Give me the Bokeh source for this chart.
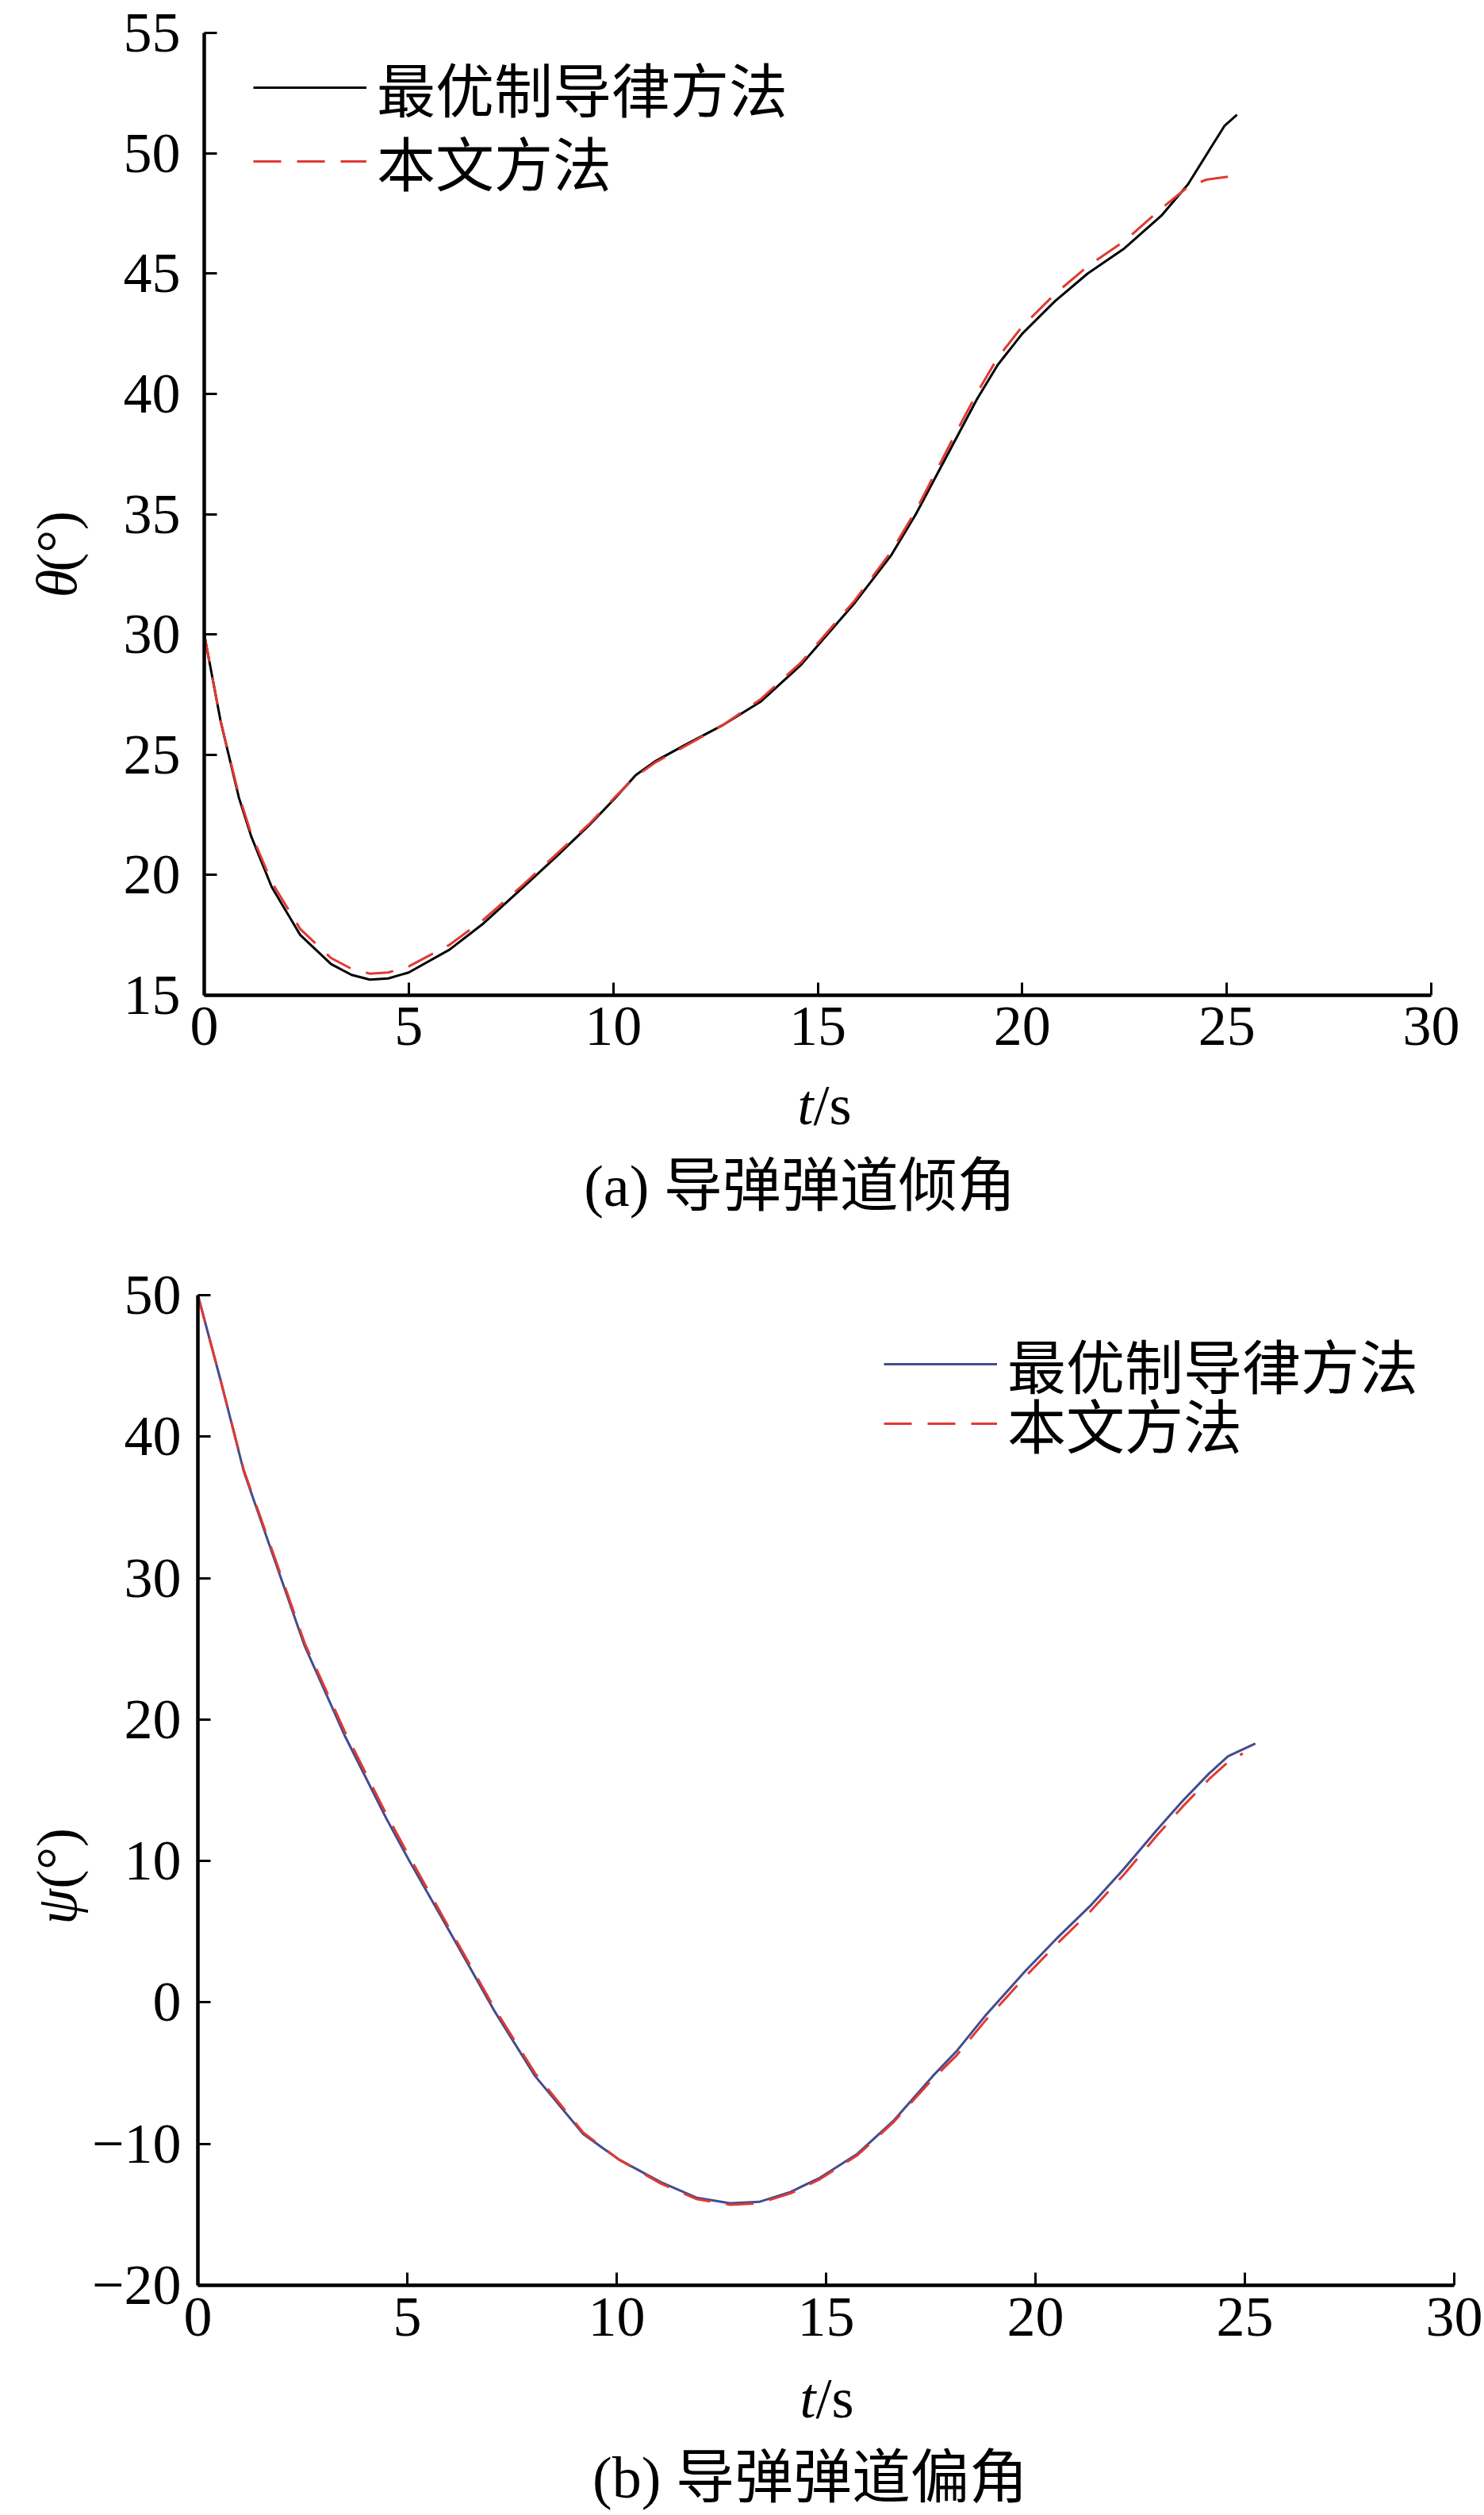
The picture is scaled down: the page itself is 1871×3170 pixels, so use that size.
from math import pi
from bokeh.plotting import figure
from bokeh.models import Range1d, FixedTicker, Legend, LegendItem
from bokeh.core.properties import value
from bokeh.layouts import column, row
from bokeh.embed import file_html
from bokeh.resources import INLINE

# ---------------- data: (a) pitch angle theta ----------------
t_opt_a = [0, 0.4, 0.85, 1.15, 1.65, 2.35, 3.1, 3.6, 4.05, 4.5, 5.0, 6.0, 6.8, 7.8,
           8.6, 9.4, 10.05, 10.55, 11.05, 11.75, 12.7, 13.6, 14.6, 15.9, 16.8, 17.4,
           17.9, 18.4, 18.9, 19.4, 20.0, 20.8, 21.6, 22.5, 23.4, 24.05, 24.6, 24.95, 25.25]
theta_opt = [30.0, 26.4, 23.2, 21.6, 19.5, 17.5, 16.3, 15.85, 15.65, 15.7, 15.95, 16.9,
             17.95, 19.5, 20.75, 22.05, 23.2, 24.15, 24.75, 25.4, 26.25, 27.2, 28.75,
             31.3, 33.3, 35.0, 36.6, 38.2, 39.8, 41.2, 42.5, 43.85, 45.0, 46.05, 47.4,
             48.7, 50.2, 51.15, 51.6]
t_new_a = [0, 0.4, 0.85, 1.15, 1.65, 2.35, 3.1, 3.6, 4.05, 4.5, 5.0, 6.0, 6.8, 7.8,
           8.6, 9.4, 10.05, 10.55, 11.05, 11.75, 12.7, 13.6, 14.6, 15.9, 16.8, 17.4,
           17.9, 18.4, 18.9, 19.4, 20.0, 20.8, 21.6, 22.5, 23.4, 24.05, 24.5, 25.15]
theta_new = [30.0, 26.4, 23.3, 21.7, 19.7, 17.75, 16.55, 16.1, 15.9, 15.95, 16.2, 17.1,
             18.1, 19.6, 20.85, 22.1, 23.25, 24.1, 24.7, 25.35, 26.25, 27.3, 28.85,
             31.4, 33.45, 35.15, 36.8, 38.45, 40.05, 41.5, 42.8, 44.15, 45.3, 46.35,
             47.7, 48.6, 48.9, 49.05]

# ---------------- data: (b) yaw angle psi ----------------
t_opt_b = [0, 0.55, 1.1, 1.9, 2.55, 3.5, 4.5, 5.05, 6.05, 7.1, 8.05, 9.2, 10.05, 11.05,
           11.9, 12.7, 13.4, 14.15, 14.85, 15.75, 16.6, 17.55, 18.1, 18.8, 19.75, 20.5,
           21.3, 22.1, 22.9, 23.5, 24.15, 24.6, 25.25]
psi_opt = [50.0, 43.9, 37.5, 30.7, 25.2, 18.9, 13.0, 10.0, 4.8, -0.7, -5.2, -9.3, -11.1,
           -12.7, -13.8, -14.2, -14.1, -13.4, -12.4, -10.7, -8.4, -5.2, -3.5, -0.95, 2.2,
           4.5, 6.8, 9.4, 12.2, 14.2, 16.2, 17.4, 18.3]
t_new_b = [0, 0.55, 1.1, 1.9, 2.55, 3.5, 4.5, 5.05, 6.05, 7.1, 8.05, 9.2, 10.05, 11.05,
           11.9, 12.7, 13.4, 14.15, 14.85, 15.75, 16.6, 17.55, 18.1, 18.8, 19.75, 20.5,
           21.3, 22.1, 22.9, 23.5, 24.15, 24.6, 24.95]
psi_new = [50.0, 43.9, 37.6, 30.9, 25.4, 19.2, 13.3, 10.3, 5.0, -0.5, -5.0, -9.2, -11.1,
           -12.8, -13.9, -14.3, -14.2, -13.5, -12.5, -10.8, -8.5, -5.4, -3.8, -1.3, 1.8,
           4.1, 6.4, 9.0, 11.8, 13.8, 15.8, 17.0, 17.6]

x_ticks = [0, 5, 10, 15, 20, 25, 30]
y_ticks_a = [15, 20, 25, 30, 35, 40, 45, 50, 55]
y_ticks_b = [-20, -10, 0, 10, 20, 30, 40, 50]
y_tick_overrides_b = {-20: "\u221220", -10: "\u221210"}

legend_labels = ["最优制导律方法", "本文方法"]
caption_a = "(a) 导弹弹道倾角"
caption_b = "(b) 导弹弹道偏角"
ylabel_a = ["\u03b8", "(\u00b0)"]
ylabel_b = ["\u03c8", "(\u00b0)"]
xlabel = ["t", "/s"]

SERIF = "'Liberation Serif', 'Noto Sans CJK SC'"
CJK = "'Noto Sans CJK SC'"
RED = "#e03a32"
BLUE = "#434c8e"
TICK_FS = "72px"
CJK_FS = "74px"
LEG_HALF = 50  # half of the legend item height as laid out by Bokeh

PAGE_W = 1871
YL_W = 112
MAIN_W = PAGE_W - YL_W


def make_fig(width, height, left, right, top, bottom, xr, yr, yticks):
    p = figure(width=width, height=height, output_backend="svg", toolbar_location=None,
               x_range=Range1d(*xr), y_range=Range1d(*yr),
               min_border_left=left, min_border_right=right,
               min_border_top=top, min_border_bottom=bottom)
    p.outline_line_color = None
    p.grid.visible = False
    for ax in (p.xaxis[0], p.yaxis[0]):
        ax.axis_line_width = 4.5
        ax.axis_line_color = "black"
        ax.major_tick_line_width = 3
        ax.major_tick_line_color = "black"
        ax.major_tick_in = 16
        ax.major_tick_out = 0
        ax.minor_tick_line_color = None
        ax.major_label_text_font = SERIF
        ax.major_label_text_font_size = TICK_FS
        ax.major_label_text_color = "black"
    p.xaxis[0].ticker = FixedTicker(ticks=x_ticks)
    p.yaxis[0].ticker = FixedTicker(ticks=yticks)
    return p


def text_canvas(w, h):
    c = figure(width=w, height=h, x_range=Range1d(0, w), y_range=Range1d(0, h),
               x_axis_location=None, y_axis_location=None, toolbar_location=None,
               output_backend="svg", min_border=0, min_border_left=0,
               min_border_right=0, min_border_top=0, min_border_bottom=0)
    c.outline_line_color = None
    c.grid.visible = False
    return c


def put_text(c, page_left, page_top, X, Y, s, size=TICK_FS, style="normal",
             align="left", angle=0.0, font=SERIF):
    h = c.height
    c.text(x=[X - page_left], y=[h - (Y - page_top)], text=[s],
           text_font=value(font), text_font_size=value(size),
           text_font_style=style, text_align=align, text_baseline="middle",
           text_color="black", angle=angle)


def add_legend(p, renderer, label, frame_left, frame_bottom, X, Yc):
    leg = Legend(items=[LegendItem(label=label, renderers=[renderer])],
                 location=(X - frame_left, frame_bottom - Yc - LEG_HALF),
                 glyph_width=143, glyph_height=80, label_height=80,
                 label_standoff=13, padding=0, spacing=0, margin=0,
                 border_line_color=None, background_fill_alpha=0,
                 label_text_font=CJK, label_text_font_size=CJK_FS,
                 label_text_color="black")
    p.add_layout(leg)


# ---------------- panel (a) ----------------
# frame: x 257..1804, y 41..1254 (page pixels)
HA = 41 + 1213 + 96
pa = make_fig(MAIN_W, HA, 145, MAIN_W - 145 - 1547, 41, 96, (0, 30), (15, 55), y_ticks_a)
pa.yaxis[0].major_label_standoff = 30
pa.xaxis[0].major_label_standoff = 15
ra1 = pa.line(t_opt_a, theta_opt, line_color="black", line_width=3, line_join="round")
ra2 = pa.line(t_new_a, theta_new, line_color=RED, line_width=3, line_dash="35 20")
add_legend(pa, ra1, legend_labels[0], 257, 1254, 319, 113)
add_legend(pa, ra2, legend_labels[1], 257, 1254, 319, 206)

ya = text_canvas(YL_W, HA)
put_text(ya, 0, 0, 71, 792, ylabel_a[0], style="italic", angle=pi / 2)
put_text(ya, 0, 0, 71, 756, ylabel_a[1], angle=pi / 2)

CA_TOP = HA
capa = text_canvas(PAGE_W, 1590 - CA_TOP)
put_text(capa, 0, CA_TOP, 1005, 1392, xlabel[0], style="italic")
put_text(capa, 0, CA_TOP, 1025, 1392, xlabel[1])
put_text(capa, 0, CA_TOP, 1008, 1494, caption_a, size=CJK_FS, align="center")

# ---------------- panel (b) ----------------
# frame: x 248..1833, y 1632..2880 (page pixels)
HB = 42 + 1248 + 96
pb = make_fig(MAIN_W, HB, 136, MAIN_W - 136 - 1585, 42, 96, (0, 30), (-20, 50), y_ticks_b)
pb.yaxis[0].major_label_standoff = 21
pb.xaxis[0].major_label_standoff = 16
pb.yaxis[0].major_label_overrides = y_tick_overrides_b
rb1 = pb.line(t_opt_b, psi_opt, line_color=BLUE, line_width=3, line_join="round")
rb2 = pb.line(t_new_b, psi_new, line_color=RED, line_width=3, line_dash="35 20")
add_legend(pb, rb1, legend_labels[0], 248, 2880, 1113, 1722)
add_legend(pb, rb2, legend_labels[1], 248, 2880, 1113, 1797)

yb = text_canvas(YL_W, HB)
put_text(yb, 0, 1590, 71, 2471, ylabel_b[0], style="italic", angle=pi / 2)
put_text(yb, 0, 1590, 71, 2421, ylabel_b[1], angle=pi / 2)

CB_TOP = 1590 + HB
capb = text_canvas(PAGE_W, 3170 - CB_TOP)
put_text(capb, 0, CB_TOP, 1008, 3022, xlabel[0], style="italic")
put_text(capb, 0, CB_TOP, 1028, 3022, xlabel[1])
put_text(capb, 0, CB_TOP, 1021, 3122, caption_b, size=CJK_FS, align="center")

layout = column(row(ya, pa), capa, row(yb, pb), capb)
open("out.html", "w").write(file_html(layout, INLINE))
